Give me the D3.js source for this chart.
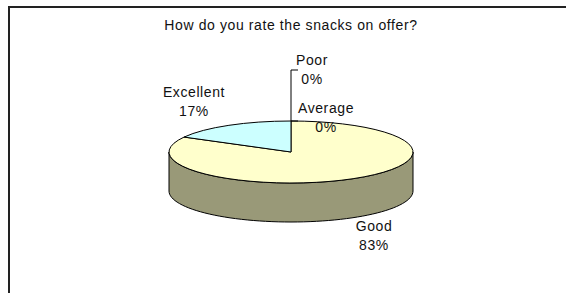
<!DOCTYPE html>
<html>
<head>
<meta charset="utf-8">
<script src="https://cdn.jsdelivr.net/npm/d3@7"></script>
<style>
  body { margin: 0; background: #fff; }
  text { font-family: 'Liberation Sans', Arial, sans-serif; font-size: 14px; fill: #111; }
</style>
</head>
<body>
<div id="chart"></div>
<script>
const title = 'How do you rate the snacks on offer?'
const categories = ['Poor', 'Average', 'Good', 'Excellent']
const values = [0, 0, 83, 17]
const colors = ['#9999ff', '#993366', '#ffffcc', '#ccffff']

const width = 566
const height = 293

const svg = d3.select('#chart').append('svg')
  .attr('width', width)
  .attr('height', height)

// frame
svg.append('rect')
  .attr('x', 9)
  .attr('y', 7)
  .attr('width', 700)
  .attr('height', 500)
  .attr('fill', 'none')
  .attr('stroke', '#222')
  .attr('stroke-width', 2)

svg.append('text')
  .attr('x', 291)
  .attr('y', 30)
  .attr('text-anchor', 'middle')
  .style('letter-spacing', '0.6px')
  .text(title)

const cx = 291, cy = 152, rx = 122, ry = 31, depth = 39

const total = d3.sum(values)
const pie = d3.pie().sort(null).value(d => d)
const arcs = pie(values)
const pct = d3.format('.0%')

// ellipse projection, angle clockwise from 12 o'clock
const px = a => cx + rx * Math.sin(a)
const py = a => cy - ry * Math.cos(a)

const g = svg.append('g')

// side walls (front half only)
const line = d3.line()
arcs.forEach((d, i) => {
  const s = Math.max(d.startAngle, Math.PI / 2)
  const e = Math.min(d.endAngle, Math.PI * 3 / 2)
  if (e <= s) return
  const n = 60
  const top = d3.range(n + 1).map(k => s + (e - s) * k / n)
  const pts = top.map(a => [px(a), py(a)])
    .concat(top.slice().reverse().map(a => [px(a), py(a) + depth]))
  g.append('path')
    .attr('d', line(pts) + 'Z')
    .attr('fill', '#999978')
    .attr('stroke', '#000')
    .attr('stroke-width', 1)
})

// top face via d3.arc squashed vertically
const arc = d3.arc().innerRadius(0).outerRadius(rx)
const topG = g.append('g')
  .attr('transform', `translate(${cx},${cy}) scale(1,${ry / rx})`)
topG.selectAll('path')
  .data(arcs.filter(d => d.value > 0))
  .join('path')
  .attr('d', arc)
  .attr('fill', d => colors[d.index])
  .attr('stroke', '#000')
  .attr('stroke-width', 1)
  .attr('vector-effect', 'non-scaling-stroke')

// leader line for the zero slices
const lx = px(0), ly = py(0)
g.append('path')
  .attr('d', `M${lx + 7},${ly - 51}H${lx}V${ly}H${lx + 7}`)
  .attr('fill', 'none')
  .attr('stroke', '#000')
  .attr('stroke-width', 1)

// labels
const labelPos = [
  [312, 65],
  [326, 113],
  [374, 231],
  [194, 97]
]
categories.forEach((c, i) => {
  const t = svg.append('text')
    .attr('text-anchor', 'middle')
    .style('letter-spacing', '0.6px')
  t.append('tspan').attr('x', labelPos[i][0]).attr('y', labelPos[i][1]).text(c)
  t.append('tspan').attr('x', labelPos[i][0]).attr('dy', 19).text(pct(values[i] / total))
})
</script>
</body>
</html>
